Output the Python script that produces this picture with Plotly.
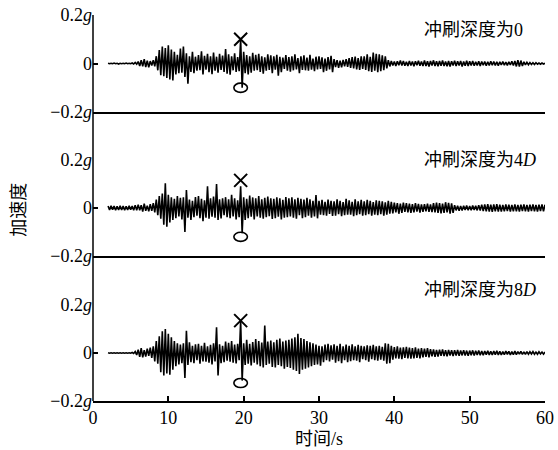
import numpy as np
import plotly.graph_objects as go

# ---------------- data (acceleration, unit: 0.001 g) ----------------
T0 = 2.0     # first sample time, s
DT = 0.2     # sample step, s

acc_scour0_milli_g = [
    1, -1, 1, -1, 2, -1, 1, -2, 1, -1,
    1, -1, 2, -1, 1, -1, 2, -2, 4, -3,
    8, -10, 14, -12, 18, -15, 12, -16, 10, -8,
    14, -12, 30, -28, 55, -48, 70, -52, 64, -60,
    75, -66, 58, -70, 48, -45, 36, -40, 62, -38,
    70, -55, 42, -83, 30, -35, 48, -40, 28, -30,
    35, -28, 50, -45, 32, -25, 40, -36, 30, -44,
    45, -30, 28, -38, 40, -26, 33, -35, 60, -42,
    38, -46, 30, -28, 42, -35, 26, -32, 100, -100,
    48, -40, 35, -45, 30, -38, 44, -30, 36, -28,
    40, -35, 30, -42, 25, -30, 38, -26, 34, -40,
    30, -25, 36, -50, 28, -36, 24, -22, 35, -30,
    26, -34, 30, -28, 38, -24, 22, -40, 30, -26,
    34, -28, 24, -30, 36, -25, 20, -32, 28, -24,
    30, -22, 25, -36, 20, -30, 26, -24, 32, -36,
    18, -15, 14, -18, 12, -16, 15, -12, 18, -14,
    22, -18, 26, -20, 28, -24, 22, -26, 30, -22,
    30, -26, 38, -32, 28, -35, 45, -30, 40, -36,
    38, -32, 34, -28, 30, -20, 14, -12, 10, -8,
    8, -10, 9, -7, 12, -8, 10, -9, 7, -10,
    10, -8, 8, -11, 9, -7, 11, -9, 8, -10,
    12, -10, 9, -12, 10, -8, 13, -10, 9, -11,
    10, -9, 12, -10, 8, -11, 10, -12, 9, -8,
    11, -10, 9, -8, 10, -12, 8, -9, 11, -10,
    9, -8, 10, -9, 7, -8, 9, -10, 8, -7,
    8, -9, 7, -8, 9, -7, 8, -8, 7, -9,
    7, -6, 8, -7, 6, -8, 7, -6, 9, -8,
    10, -12, 14, -13, 12, -10, 7, -6, 5, -5,
    4, -4, 3, -4, 3, -3, 2, -3, 2, -2,
    1,
]

acc_scour4D_milli_g = [
    8, -8, 9, -7, 8, -9, 7, -8, 9, -8,
    8, -9, 7, -8, 9, -7, 8, -9, 12, -10,
    14, -10, 12, -15, 18, -12, 10, -14, 16, -12,
    20, -18, 35, -30, 50, -45, 60, -70, 103, -78,
    55, -60, 45, -50, 38, -42, 50, -35, 42, -48,
    45, -100, 75, -40, 35, -50, 30, -38, 46, -32,
    50, -42, 38, -55, 32, -40, 90, -45, 40, -36,
    48, -40, 100, -50, 36, -44, 40, -30, 45, -38,
    36, -42, 55, -35, 40, -48, 32, -38, 90, -105,
    45, -50, 38, -42, 52, -36, 44, -48, 40, -35,
    50, -40, 36, -45, 42, -38, 48, -34, 40, -46,
    38, -42, 45, -36, 40, -48, 34, -40, 46, -38,
    40, -35, 44, -40, 36, -45, 42, -30, 38, -42,
    35, -38, 42, -32, 36, -40, 30, -35, 54, -43,
    30, -28, 34, -30, 26, -32, 35, -25, 30, -33,
    28, -32, 36, -26, 30, -34, 25, -30, 38, -28,
    32, -28, 26, -34, 36, -30, 28, -26, 34, -32,
    28, -30, 34, -26, 30, -32, 25, -28, 32, -30,
    30, -26, 28, -32, 24, -28, 30, -24, 26, -22,
    22, -18, 20, -24, 18, -20, 22, -16, 20, -18,
    18, -20, 16, -18, 20, -15, 17, -19, 15, -16,
    16, -14, 18, -16, 15, -17, 20, -18, 22, -20,
    20, -22, 18, -20, 24, -18, 21, -23, 19, -20,
    12, -10, 9, -11, 8, -10, 9, -8, 10, -9,
    8, -9, 10, -8, 9, -10, 12, -11, 14, -13,
    15, -14, 16, -15, 14, -16, 15, -14, 16, -15,
    14, -15, 13, -14, 15, -13, 14, -15, 13, -14,
    15, -14, 13, -15, 14, -13, 15, -14, 13, -15,
    14, -13, 15, -14, 13, -15, 14, -13, 15, -14,
    14,
]

acc_scour8D_milli_g = [
    1, -1, 1, -1, 1, -1, 1, -1, 1, -1,
    1, -1, 1, -1, 1, -1, 2, -2, 6, -8,
    14, -16, 20, -18, 12, -15, 18, -12, 22, -20,
    28, -35, 50, -45, 70, -80, 90, -94, 100, -85,
    80, -90, 65, -70, 50, -55, 40, -48, 35, -42,
    40, -104, 93, -50, 45, -38, 30, -42, 36, -30,
    38, -45, 30, -35, 42, -36, 28, -40, 34, -48,
    40, -35, 107, -94, 36, -42, 30, -38, 48, -32,
    42, -36, 50, -40, 35, -44, 38, -30, 135, -115,
    40, -50, 55, -45, 38, -52, 46, -40, 58, -48,
    50, -55, 44, -60, 114, -50, 48, -45, 52, -58,
    45, -60, 55, -50, 60, -55, 48, -65, 52, -58,
    55, -62, 60, -70, 65, -75, 80, -87, 62, -70,
    58, -65, 50, -60, 45, -55, 40, -50, 35, -48,
    30, -53, 28, -38, 35, -30, 38, -35, 32, -28,
    36, -40, 30, -34, 38, -42, 28, -30, 35, -38,
    30, -34, 36, -30, 28, -32, 34, -38, 30, -26,
    28, -30, 32, -36, 30, -26, 34, -30, 28, -32,
    30, -28, 26, -32, 40, -45, 38, -42, 30, -28,
    25, -22, 28, -24, 22, -26, 24, -20, 26, -22,
    22, -24, 20, -22, 24, -20, 18, -22, 20, -18,
    18, -16, 20, -18, 16, -14, 15, -16, 13, -15,
    14, -12, 15, -13, 12, -14, 13, -11, 12, -13,
    12, -11, 13, -12, 11, -10, 12, -11, 10, -12,
    10, -9, 11, -10, 9, -8, 10, -9, 8, -9,
    8, -7, 9, -8, 7, -8, 8, -7, 9, -8,
    7, -8, 6, -7, 8, -6, 7, -8, 6, -7,
    8, -7, 6, -5, 7, -6, 5, -6, 6, -5,
    5, -4, 6, -5, 4, -5, 5, -4, 4, -5,
    4,
]

panel_labels = ["冲刷深度为0", "冲刷深度为4<i>D</i>", "冲刷深度为8<i>D</i>"]
cross_t = [19.6, 19.6, 19.6]          # × markers (peak)
cross_acc = [0.10, 0.115, 0.135]
ring_t = [19.6, 19.6, 19.6]           # ○ markers (trough)
ring_acc = [-0.10, -0.12, -0.125]

x_ticks = [0, 10, 20, 30, 40, 50, 60]
y_tickvals = [-0.2, 0, 0.2]
y_ticktext = ["\u22120.2<i>g</i>", "0", "0.2<i>g</i>"]

# ---------------- figure ----------------
series = [acc_scour0_milli_g, acc_scour4D_milli_g, acc_scour8D_milli_g]
domains = [[0.7487, 1.0], [0.3756, 0.6244], [0.0, 0.2487]]
label_y = [0.961, 0.624, 0.2876]

SERIF = "Liberation Serif, Noto Sans CJK SC, serif"
fig = go.Figure()

for k, acc in enumerate(series):
    a = np.array(acc, dtype=float) / 1000.0
    t = T0 + DT * np.arange(len(a))
    xa = "x" if k == 0 else f"x{k+1}"
    ya = "y" if k == 0 else f"y{k+1}"
    fig.add_trace(go.Scatter(x=t, y=a, mode="lines", xaxis=xa, yaxis=ya,
                             line=dict(color="black", width=1.6), hoverinfo="skip",
                             showlegend=False))
    fig.add_trace(go.Scatter(x=[cross_t[k]], y=[cross_acc[k]], mode="markers",
                             xaxis=xa, yaxis=ya, showlegend=False, hoverinfo="skip",
                             marker=dict(symbol="x-thin-open", size=13, color="black",
                                         line=dict(color="black", width=2))))
    fig.add_shape(type="circle", xref=xa, yref=ya,
                  x0=ring_t[k] - 0.9, x1=ring_t[k] + 0.9,
                  y0=ring_acc[k] - 0.019, y1=ring_acc[k] + 0.019,
                  line=dict(color="black", width=1.6))
    fig.add_annotation(text=panel_labels[k], xref="paper", yref="paper",
                       x=0.728, y=label_y[k], xanchor="left", yanchor="middle",
                       showarrow=False, font=dict(family=SERIF, size=18, color="black"))

axis_common = dict(range=[0, 60], showgrid=False, zeroline=False, showline=True,
                   linecolor="black", linewidth=1.5, automargin=False)
yaxis_common = dict(range=[-0.2, 0.2], showgrid=False, zeroline=False, showline=False,
                    automargin=False, ticklabeloverflow="allow",
                    tickmode="array", tickvals=y_tickvals, ticktext=y_ticktext,
                    ticks="inside", ticklen=5, tickwidth=1.5, tickcolor="black",
                    tickfont=dict(family=SERIF, size=18, color="black"))

fig.update_layout(
    template="none",
    width=558, height=450,
    margin=dict(l=93, r=13, t=15, b=49),
    paper_bgcolor="white", plot_bgcolor="white",
    xaxis=dict(**axis_common, anchor="y", showticklabels=False, ticks=""),
    xaxis2=dict(**axis_common, anchor="y2", showticklabels=False, ticks="", matches="x"),
    xaxis3=dict(**axis_common, anchor="y3", tickmode="array", tickvals=x_ticks,
                ticks="inside", ticklen=5, tickwidth=1.5, tickcolor="black",
                tickfont=dict(family=SERIF, size=18, color="black"), matches="x"),
    yaxis=dict(**yaxis_common, domain=domains[0], anchor="x"),
    yaxis2=dict(**yaxis_common, domain=domains[1], anchor="x2"),
    yaxis3=dict(**yaxis_common, domain=domains[2], anchor="x3"),
)

# continuous left axis line through all three panels
fig.add_shape(type="line", xref="paper", yref="paper", x0=0, x1=0, y0=0, y1=1,
              line=dict(color="black", width=1.5))

# axis titles
fig.add_annotation(text="加速度", xref="paper", yref="paper", x=-0.164, y=0.495,
                   textangle=-90, showarrow=False, xanchor="center", yanchor="middle",
                   font=dict(family=SERIF, size=18, color="black"))
fig.add_annotation(text="时间/s", xref="paper", yref="paper", x=0.5, y=-0.098,
                   showarrow=False, xanchor="center", yanchor="middle",
                   font=dict(family=SERIF, size=18, color="black"))

# remove the page's default body margin so the figure sits at the window origin
fig.write_html("out.html", config={"displayModeBar": False},
               post_script="document.body.style.margin='0';")
